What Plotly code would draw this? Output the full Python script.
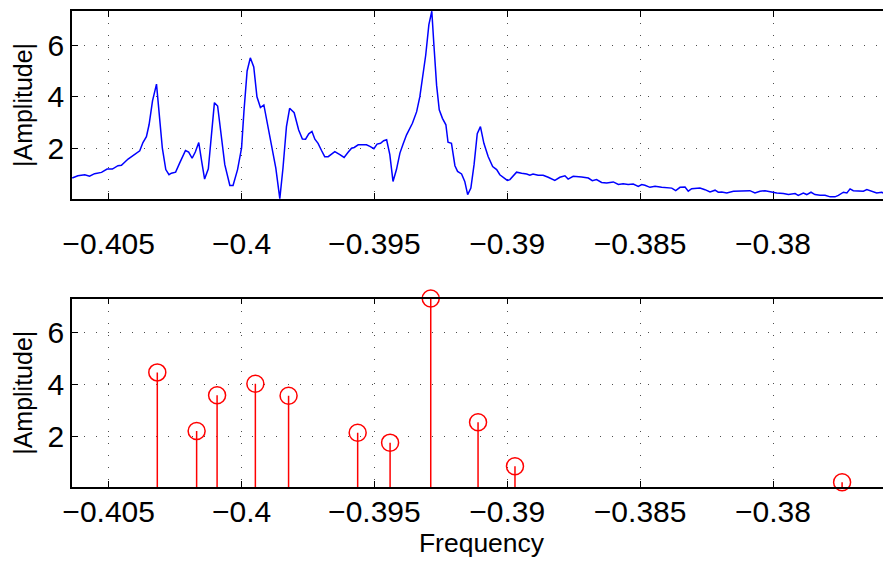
"""Spectrum amplitude: dense curve on top, picked peaks as stems below."""
import plotly.graph_objects as go

BLUE = "#0000FF"
RED = "#FF0000"
GRID = "#4D4D4D"
TEXT = "#000000"
FONT = "Liberation Sans, Arial, Helvetica, sans-serif"

# ---- top panel: |Amplitude| spectrum ----
freq = [
    -0.40637, -0.40616, -0.40590, -0.40572, -0.40553, -0.40527, -0.40506, -0.40486,
    -0.40465, -0.40452, -0.40427, -0.40402, -0.40383, -0.40371, -0.40358, -0.40348,
    -0.40335, -0.40320, -0.40311, -0.40298, -0.40285, -0.40273, -0.40264, -0.40248,
    -0.40233, -0.40211, -0.40199, -0.40186, -0.40174, -0.40161, -0.40150, -0.40139,
    -0.40125, -0.40113, -0.40102, -0.40090, -0.40076, -0.40063, -0.40044, -0.40032,
    -0.40015, -0.40000, -0.39991, -0.39979, -0.39967, -0.39954, -0.39942, -0.39929,
    -0.39916, -0.39904, -0.39891, -0.39871, -0.39856, -0.39844, -0.39831, -0.39819,
    -0.39802, -0.39785, -0.39771, -0.39759, -0.39747, -0.39735, -0.39724, -0.39712,
    -0.39699, -0.39687, -0.39674, -0.39649, -0.39630, -0.39614, -0.39599, -0.39586,
    -0.39576, -0.39561, -0.39539, -0.39530, -0.39517, -0.39502, -0.39490, -0.39477,
    -0.39465, -0.39454, -0.39442, -0.39430, -0.39417, -0.39404, -0.39392, -0.39379,
    -0.39357, -0.39341, -0.39329, -0.39317, -0.39307, -0.39295, -0.39284, -0.39276,
    -0.39266, -0.39256, -0.39244, -0.39231, -0.39223, -0.39210, -0.39197, -0.39187,
    -0.39172, -0.39160, -0.39149, -0.39137, -0.39125, -0.39113, -0.39101, -0.39088,
    -0.39072, -0.39055, -0.39040, -0.39028, -0.39013, -0.39000, -0.38990, -0.38978,
    -0.38965, -0.38946, -0.38927, -0.38915, -0.38903, -0.38884, -0.38865, -0.38846,
    -0.38821, -0.38802, -0.38783, -0.38771, -0.38752, -0.38720, -0.38695, -0.38680,
    -0.38664, -0.38645, -0.38626, -0.38601, -0.38582, -0.38564, -0.38545, -0.38526,
    -0.38507, -0.38494, -0.38482, -0.38463, -0.38444, -0.38419, -0.38394, -0.38381,
    -0.38366, -0.38350, -0.38331, -0.38319, -0.38306, -0.38275, -0.38256, -0.38237,
    -0.38218, -0.38206, -0.38193, -0.38174, -0.38149, -0.38118, -0.38087, -0.38068,
    -0.38049, -0.38030, -0.38011, -0.37986, -0.37961, -0.37942, -0.37917, -0.37905,
    -0.37886, -0.37873, -0.37857, -0.37842, -0.37823, -0.37804, -0.37785, -0.37767,
    -0.37754, -0.37735, -0.37722, -0.37710, -0.37698, -0.37679, -0.37660, -0.37647,
    -0.37631, -0.37610, -0.37591, -0.37572, -0.37556,
]
amp = [
    0.85, 0.94, 0.98, 0.92, 1.02, 1.07, 1.20, 1.20,
    1.33, 1.35, 1.59, 1.78, 1.91, 2.23, 2.46, 2.92,
    3.85, 4.50, 3.56, 2.01, 1.18, 0.98, 1.04, 1.08,
    1.43, 1.92, 1.86, 1.62, 1.86, 2.23, 1.50, 0.81,
    1.21, 2.53, 3.78, 3.65, 2.40, 1.37, 0.56, 0.56,
    1.18, 2.01, 3.43, 5.01, 5.52, 5.17, 4.01, 3.59,
    3.69, 3.04, 2.40, 1.24, 0.05, 1.24, 2.85, 3.56,
    3.39, 2.72, 2.37, 2.36, 2.57, 2.66, 2.36, 2.20,
    1.92, 1.68, 1.68, 1.88, 1.76, 1.65, 1.85, 2.01,
    2.04, 2.14, 2.14, 2.14, 2.08, 1.99, 2.17, 2.20,
    2.30, 2.34, 1.76, 0.72, 1.18, 1.82, 2.17, 2.53,
    2.98, 3.43, 4.01, 4.79, 5.62, 6.81, 7.33, 6.01,
    4.46, 3.50, 3.17, 2.92, 2.24, 2.20, 1.33, 1.11,
    1.01, 0.72, 0.21, 0.46, 1.37, 2.57, 2.85, 2.20,
    1.69, 1.30, 1.18, 0.98, 0.88, 0.76, 0.79, 0.92,
    1.08, 1.04, 1.01, 0.96, 1.01, 0.96, 0.96, 0.88,
    0.76, 0.88, 0.94, 0.81, 0.92, 0.89, 0.85, 0.75,
    0.79, 0.68, 0.66, 0.70, 0.60, 0.63, 0.60, 0.62,
    0.53, 0.60, 0.57, 0.49, 0.53, 0.49, 0.46, 0.46,
    0.36, 0.49, 0.50, 0.34, 0.44, 0.46, 0.40, 0.31,
    0.38, 0.30, 0.31, 0.27, 0.34, 0.34, 0.36, 0.27,
    0.34, 0.36, 0.31, 0.27, 0.25, 0.21, 0.25, 0.18,
    0.27, 0.21, 0.30, 0.21, 0.18, 0.18, 0.12, 0.12,
    0.18, 0.30, 0.27, 0.43, 0.36, 0.34, 0.34, 0.40,
    0.34, 0.27, 0.30, 0.21, 0.17,
]

# ---- bottom panel: picked peaks ----
peak_freq = [-0.40317, -0.40169, -0.40092, -0.39948, -0.39823, -0.39563,
             -0.39441, -0.39288, -0.39110, -0.38971, -0.37740]
peak_amp = [4.48, 2.22, 3.60, 4.04, 3.58, 2.15, 1.77, 7.33, 2.56, 0.86, 0.24]

x_ticks = [-0.405, -0.40, -0.395, -0.39, -0.385, -0.38]
x_tick_text = ["\u22120.405", "\u22120.4", "\u22120.395", "\u22120.39", "\u22120.385", "\u22120.38"]
y_ticks = [2, 4, 6]
X_RANGE = [-0.40638, -0.37556]

fig = go.Figure()
fig.add_trace(go.Scatter(x=freq, y=amp, mode="lines", line=dict(color=BLUE, width=1.5),
                         xaxis="x", yaxis="y", showlegend=False))
# stems: open circles with a one-sided error bar dropping to zero
fig.add_trace(go.Scatter(
    x=peak_freq, y=peak_amp, mode="markers", xaxis="x2", yaxis="y2", showlegend=False,
    marker=dict(symbol="circle-open", size=17, color=RED, line=dict(width=1.5)),
    error_y=dict(type="data", symmetric=False, array=[0] * len(peak_amp), arrayminus=peak_amp,
                 color=RED, thickness=1.5, width=0),
    cliponaxis=False,
))

TICK_FONT = dict(size=30, color=TEXT, family=FONT)
axis_common = dict(
    showline=True, linecolor=TEXT, linewidth=1.5, mirror="ticks",
    ticks="inside", ticklen=6, tickwidth=1.2, tickcolor=TEXT,
    showgrid=True, gridcolor=GRID, gridwidth=1, griddash="1px,11px",
    zeroline=False, tickfont=TICK_FONT,
)

# page body has an 8px offset, margins compensate for it
fig.update_layout(
    width=891, height=562,
    margin=dict(l=64, r=8, t=1, b=83),
    plot_bgcolor="white", paper_bgcolor="white",
    font=dict(family=FONT, size=25, color=TEXT),
    xaxis=dict(domain=[0, 1], range=X_RANGE, tickvals=x_ticks, ticktext=x_tick_text,
               anchor="y", ticklabelstandoff=17, **axis_common),
    yaxis=dict(domain=[0.6052, 1], range=[0.04, 7.34], tickvals=y_ticks, anchor="x",
               title=dict(text="|Amplitude|", font=dict(size=25), standoff=8), **axis_common),
    xaxis2=dict(domain=[0, 1], range=X_RANGE, tickvals=x_ticks, ticktext=x_tick_text,
                anchor="y2", ticklabelstandoff=-3,
                title=dict(text="Frequency", font=dict(size=26.5), standoff=2),
                **axis_common),
    yaxis2=dict(domain=[0, 0.396], range=[0.06, 7.33], tickvals=y_ticks, anchor="x2",
                title=dict(text="|Amplitude|", font=dict(size=25), standoff=8), **axis_common),
)

fig.write_html("out.html", config={"responsive": False})
